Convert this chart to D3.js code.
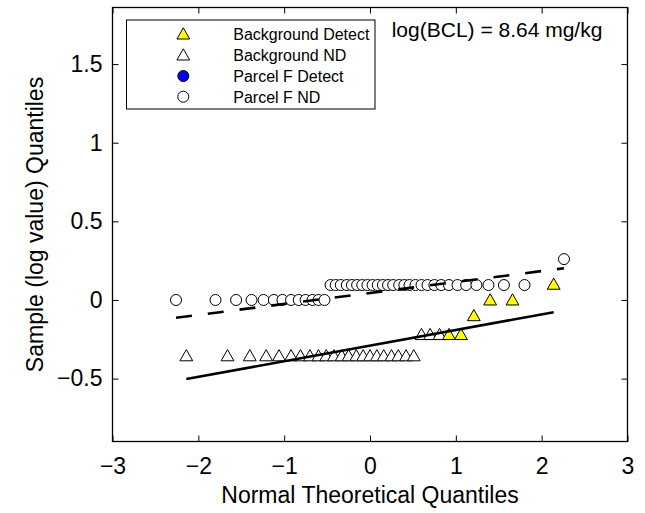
<!DOCTYPE html>
<html>
<head>
<meta charset="utf-8">
<script src="https://cdn.jsdelivr.net/npm/d3@7"></script>
<style>
  html, body { margin: 0; padding: 0; background: #fff; }
  svg { display: block; font-family: "Liberation Sans", Arial, sans-serif; }
</style>
</head>
<body>
<svg id="chart" width="645" height="513"></svg>
<script>
// ---- data ----
// Parcel F (all non-detects): theoretical normal quantiles and sample (log) quantiles
const parcelFX = [-2.26,-1.80,-1.56,-1.38,-1.24,-1.12,-1.02,-0.92,-0.83,-0.75,-0.67,-0.60,-0.53,
  -0.46,-0.40,-0.34,-0.27,-0.21,-0.15,-0.09,-0.03,0.03,0.09,0.15,0.21,0.27,0.34,0.40,0.46,0.53,
  0.60,0.67,0.75,0.83,0.92,1.02,1.12,1.24,1.38,1.56,1.80,2.26];
const parcelFY = [0,0,0,0,0,0,0,0,0,0,0,0,0,
  0.095,0.095,0.095,0.095,0.095,0.095,0.095,0.095,0.095,0.095,0.095,0.095,0.095,0.095,0.095,0.095,0.095,
  0.095,0.095,0.095,0.095,0.095,0.095,0.095,0.095,0.095,0.095,0.095,0.26];
const parcelFDetect = parcelFX.map(() => false);

// Background
const bgX = [-2.14,-1.66,-1.40,-1.21,-1.06,-0.92,-0.81,-0.70,-0.60,-0.51,-0.42,-0.33,-0.25,-0.16,-0.08,0,
  0.08,0.16,0.25,0.33,0.42,0.51,0.60,0.70,0.81,0.92,1.06,1.21,1.40,1.66,2.14];
const bgY = [-0.355,-0.355,-0.355,-0.355,-0.355,-0.355,-0.355,-0.355,-0.355,-0.355,-0.355,-0.355,-0.355,
  -0.355,-0.355,-0.355,-0.355,-0.355,-0.355,-0.355,-0.355,-0.355,
  -0.22,-0.22,-0.22,-0.22,-0.22,-0.10,0.0,0.0,0.10];
const bgDetect = [false,false,false,false,false,false,false,false,false,false,false,false,false,false,false,false,
  false,false,false,false,false,false,false,false,false,true,true,true,true,true,true];

// Reference lines (endpoints, data units)
const parcelFLine = [[-2.26,-0.113],[2.26,0.202]];
const bgLine = [[-2.14,-0.503],[2.14,-0.078]];

const xTicks = [-3,-2,-1,0,1,2,3];
const yTicks = [-0.5,0,0.5,1,1.5];
const xDomain = [-3,3];
const yDomain = [-0.9,1.86];

const legendLabels = ["Background Detect","Background ND","Parcel F Detect","Parcel F ND"];
const annotation = "log(BCL) = 8.64 mg/kg";
const xLabel = "Normal Theoretical Quantiles";
const yLabel = "Sample (log value) Quantiles";

// ---- drawing ----
const svg = d3.select("#chart");
const L = 112.5, R = 627.5, T = 7.5, B = 441.5;
const x = d3.scaleLinear().domain(xDomain).range([L, R]);
const y = d3.scaleLinear().domain(yDomain).range([B, T]);
const fmt = v => (v < 0 ? "\u2212" : "") + String(Math.abs(v));
const FS = 23;

svg.append("rect").attr("width",645).attr("height",513).attr("fill","#fff");

const tickLen = 6;
const gx = svg.append("g").attr("transform",`translate(0,${B})`)
  .call(d3.axisBottom(x).tickValues(xTicks).tickFormat(fmt).tickSizeInner(-tickLen).tickSizeOuter(0).tickPadding(16));
const gxt = svg.append("g").attr("transform",`translate(0,${T})`)
  .call(d3.axisTop(x).tickValues(xTicks).tickFormat("").tickSizeInner(-tickLen).tickSizeOuter(0));
const gy = svg.append("g").attr("transform",`translate(${L},0)`)
  .call(d3.axisLeft(y).tickValues(yTicks).tickFormat(fmt).tickSizeInner(-tickLen).tickSizeOuter(0).tickPadding(10));
const gyr = svg.append("g").attr("transform",`translate(${R},0)`)
  .call(d3.axisRight(y).tickValues(yTicks).tickFormat("").tickSizeInner(-tickLen).tickSizeOuter(0));

[gx,gxt,gy,gyr].forEach(g => {
  g.select(".domain").remove();
  g.selectAll("line").attr("stroke","#000").attr("stroke-width",1);
  g.selectAll("text").attr("fill","#000").attr("font-size",FS).attr("font-family","Liberation Sans, Arial, sans-serif");
});

svg.append("rect").attr("x",L).attr("y",T).attr("width",R-L).attr("height",B-T)
  .attr("fill","none").attr("stroke","#000").attr("stroke-width",1.3);

// markers
const triPath = "M0,-6.2L6.4,5L-6.4,5Z";
const bgData = bgX.map((v,i)=>({x:v,y:bgY[i],d:bgDetect[i]}));
const pfData = parcelFX.map((v,i)=>({x:v,y:parcelFY[i],d:parcelFDetect[i]}));

svg.append("g").selectAll("path").data(bgData).join("path")
  .attr("d",triPath)
  .attr("transform",d=>`translate(${x(d.x)},${y(d.y)})`)
  .attr("fill",d=>d.d?"#ffff00":"#fff").attr("stroke","#000").attr("stroke-width",1);

svg.append("g").selectAll("circle").data(pfData).join("circle")
  .attr("cx",d=>x(d.x)).attr("cy",d=>y(d.y)).attr("r",5.5)
  .attr("fill",d=>d.d?"#0000ff":"#fff").attr("stroke","#000").attr("stroke-width",1);

// reference lines
const line = d3.line().x(d=>x(d[0])).y(d=>y(d[1]));
svg.append("path").attr("d",line(parcelFLine)).attr("fill","none").attr("stroke","#000")
  .attr("stroke-width",2.6).attr("stroke-dasharray","16,16");
svg.append("path").attr("d",line(bgLine)).attr("fill","none").attr("stroke","#000")
  .attr("stroke-width",2.6);

// legend
const lg = svg.append("g");
lg.append("rect").attr("x",126.5).attr("y",20).attr("width",248.5).attr("height",89)
  .attr("fill","#fff").attr("stroke","#000").attr("stroke-width",1);
const legendRows = [34,55,76,96.7];
const legendStyle = [
  {shape:"tri",fill:"#ffff00"},{shape:"tri",fill:"#fff"},
  {shape:"circ",fill:"#0000ff"},{shape:"circ",fill:"#fff"}];
legendLabels.forEach((lab,i)=>{
  const cy = legendRows[i];
  if (legendStyle[i].shape==="tri") {
    lg.append("path").attr("d",triPath).attr("transform",`translate(183.3,${cy})`)
      .attr("fill",legendStyle[i].fill).attr("stroke","#000").attr("stroke-width",1);
  } else {
    lg.append("circle").attr("cx",183.3).attr("cy",cy).attr("r",5.5)
      .attr("fill",legendStyle[i].fill).attr("stroke","#000").attr("stroke-width",1);
  }
  lg.append("text").attr("x",233.3).attr("y",cy+5.8).attr("font-size",16).attr("fill","#000").text(lab);
});

svg.append("text").attr("x",391.7).attr("y",37).attr("font-size",21).attr("fill","#000").text(annotation);

svg.append("text").attr("x",(L+R)/2).attr("y",503).attr("text-anchor","middle")
  .attr("font-size",FS).attr("fill","#000").text(xLabel);
svg.append("text").attr("transform",`translate(43,${(T+B)/2}) rotate(-90)`).attr("text-anchor","middle")
  .attr("font-size",FS).attr("fill","#000").text(yLabel);
</script>
</body>
</html>
